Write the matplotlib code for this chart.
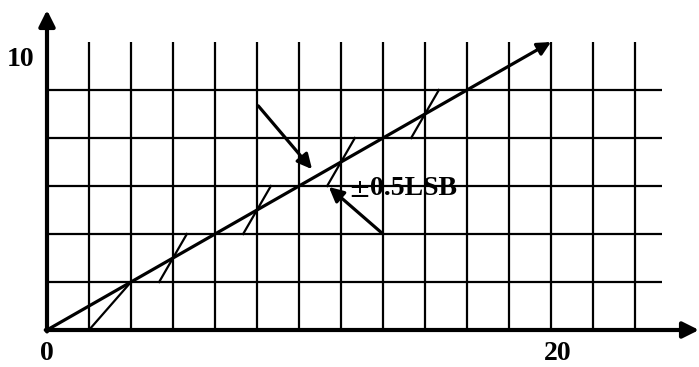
import matplotlib
matplotlib.use('Agg')
import matplotlib.pyplot as plt

# grid in units of one cell (x: 42 px, y: 48 px)
grid_x = list(range(1, 15))      # vertical lines
grid_y = list(range(1, 6))       # horizontal lines
grid_top = 6
grid_right = 14.64

# ideal transfer line (with arrow head)
ideal_start = (0, 0)
ideal_end = (12, 6)

# quantisation steps (short slanted segments)
seg_x0 = [1, 2.67, 4.67, 6.67, 8.67]
seg_x1 = [2, 3.33, 5.33, 7.33, 9.33]
seg_y0 = [0, 1, 2, 3, 4]
seg_y1 = [1, 2, 3, 4, 5]

# pointer arrows for the tolerance label
arrow_tails = [(5.03, 4.67), (8.0, 2.0)]
arrow_tips = [(6.31, 3.35), (6.71, 2.98)]

axis_labels = ['0', '20', '10']
label_pos = [(0, -0.5), (12.17, -0.5), (-0.64, 5.63)]
pm_text = '\u00b1'
pm_pos = (7.17, 2.92)
tol_text = '0.5LSB'
tol_pos = (7.68, 2.94)

FONT = dict(family=['Liberation Serif', 'DejaVu Serif'], fontweight='bold', fontsize=20)

fig = plt.figure(figsize=(6.99, 3.67), dpi=100)
ax = fig.add_axes([0, 0, 1, 1])
ax.set_xlim(-47 / 42, (699 - 47) / 42)
ax.set_ylim((330 - 367) / 48, 330 / 48)
ax.axis('off')

# grid
for gx in grid_x:
    ax.plot([gx, gx], [0, grid_top], color='black', lw=1.6, solid_capstyle='butt')
for gy in grid_y:
    ax.plot([0, grid_right], [gy, gy], color='black', lw=1.6, solid_capstyle='butt')

# axes with arrows
ax.annotate('', xy=((699 - 47) / 42, 0), xytext=(-0.03, 0),
            arrowprops=dict(arrowstyle='-|>', color='black', lw=3,
                            mutation_scale=24, shrinkA=0, shrinkB=0))
ax.annotate('', xy=(0, (330 - 10) / 48), xytext=(0, -0.03),
            arrowprops=dict(arrowstyle='-|>', color='black', lw=3,
                            mutation_scale=24, shrinkA=0, shrinkB=0))

# ideal line
ax.annotate('', xy=ideal_end, xytext=ideal_start,
            arrowprops=dict(arrowstyle='-|>', color='black', lw=2.3,
                            mutation_scale=20, shrinkA=0, shrinkB=0))

# step segments
for x0, x1, y0, y1 in zip(seg_x0, seg_x1, seg_y0, seg_y1):
    ax.plot([x0, x1], [y0, y1], color='black', lw=1.6)

# pointer arrows
for tail, tip in zip(arrow_tails, arrow_tips):
    ax.annotate('', xy=tip, xytext=tail,
                arrowprops=dict(arrowstyle='-|>', color='black', lw=2.3,
                                mutation_scale=22, shrinkA=0, shrinkB=0))

for lab, (lx, ly) in zip(axis_labels, label_pos):
    ax.text(lx, ly, lab, ha='center', va='center', **FONT)

ax.text(pm_pos[0], pm_pos[1], pm_text, ha='left', va='center',
        family='DejaVu Serif', fontsize=19)
ax.text(tol_pos[0], tol_pos[1], tol_text, ha='left', va='center', **FONT)

fig.savefig('out.png', dpi=100)
